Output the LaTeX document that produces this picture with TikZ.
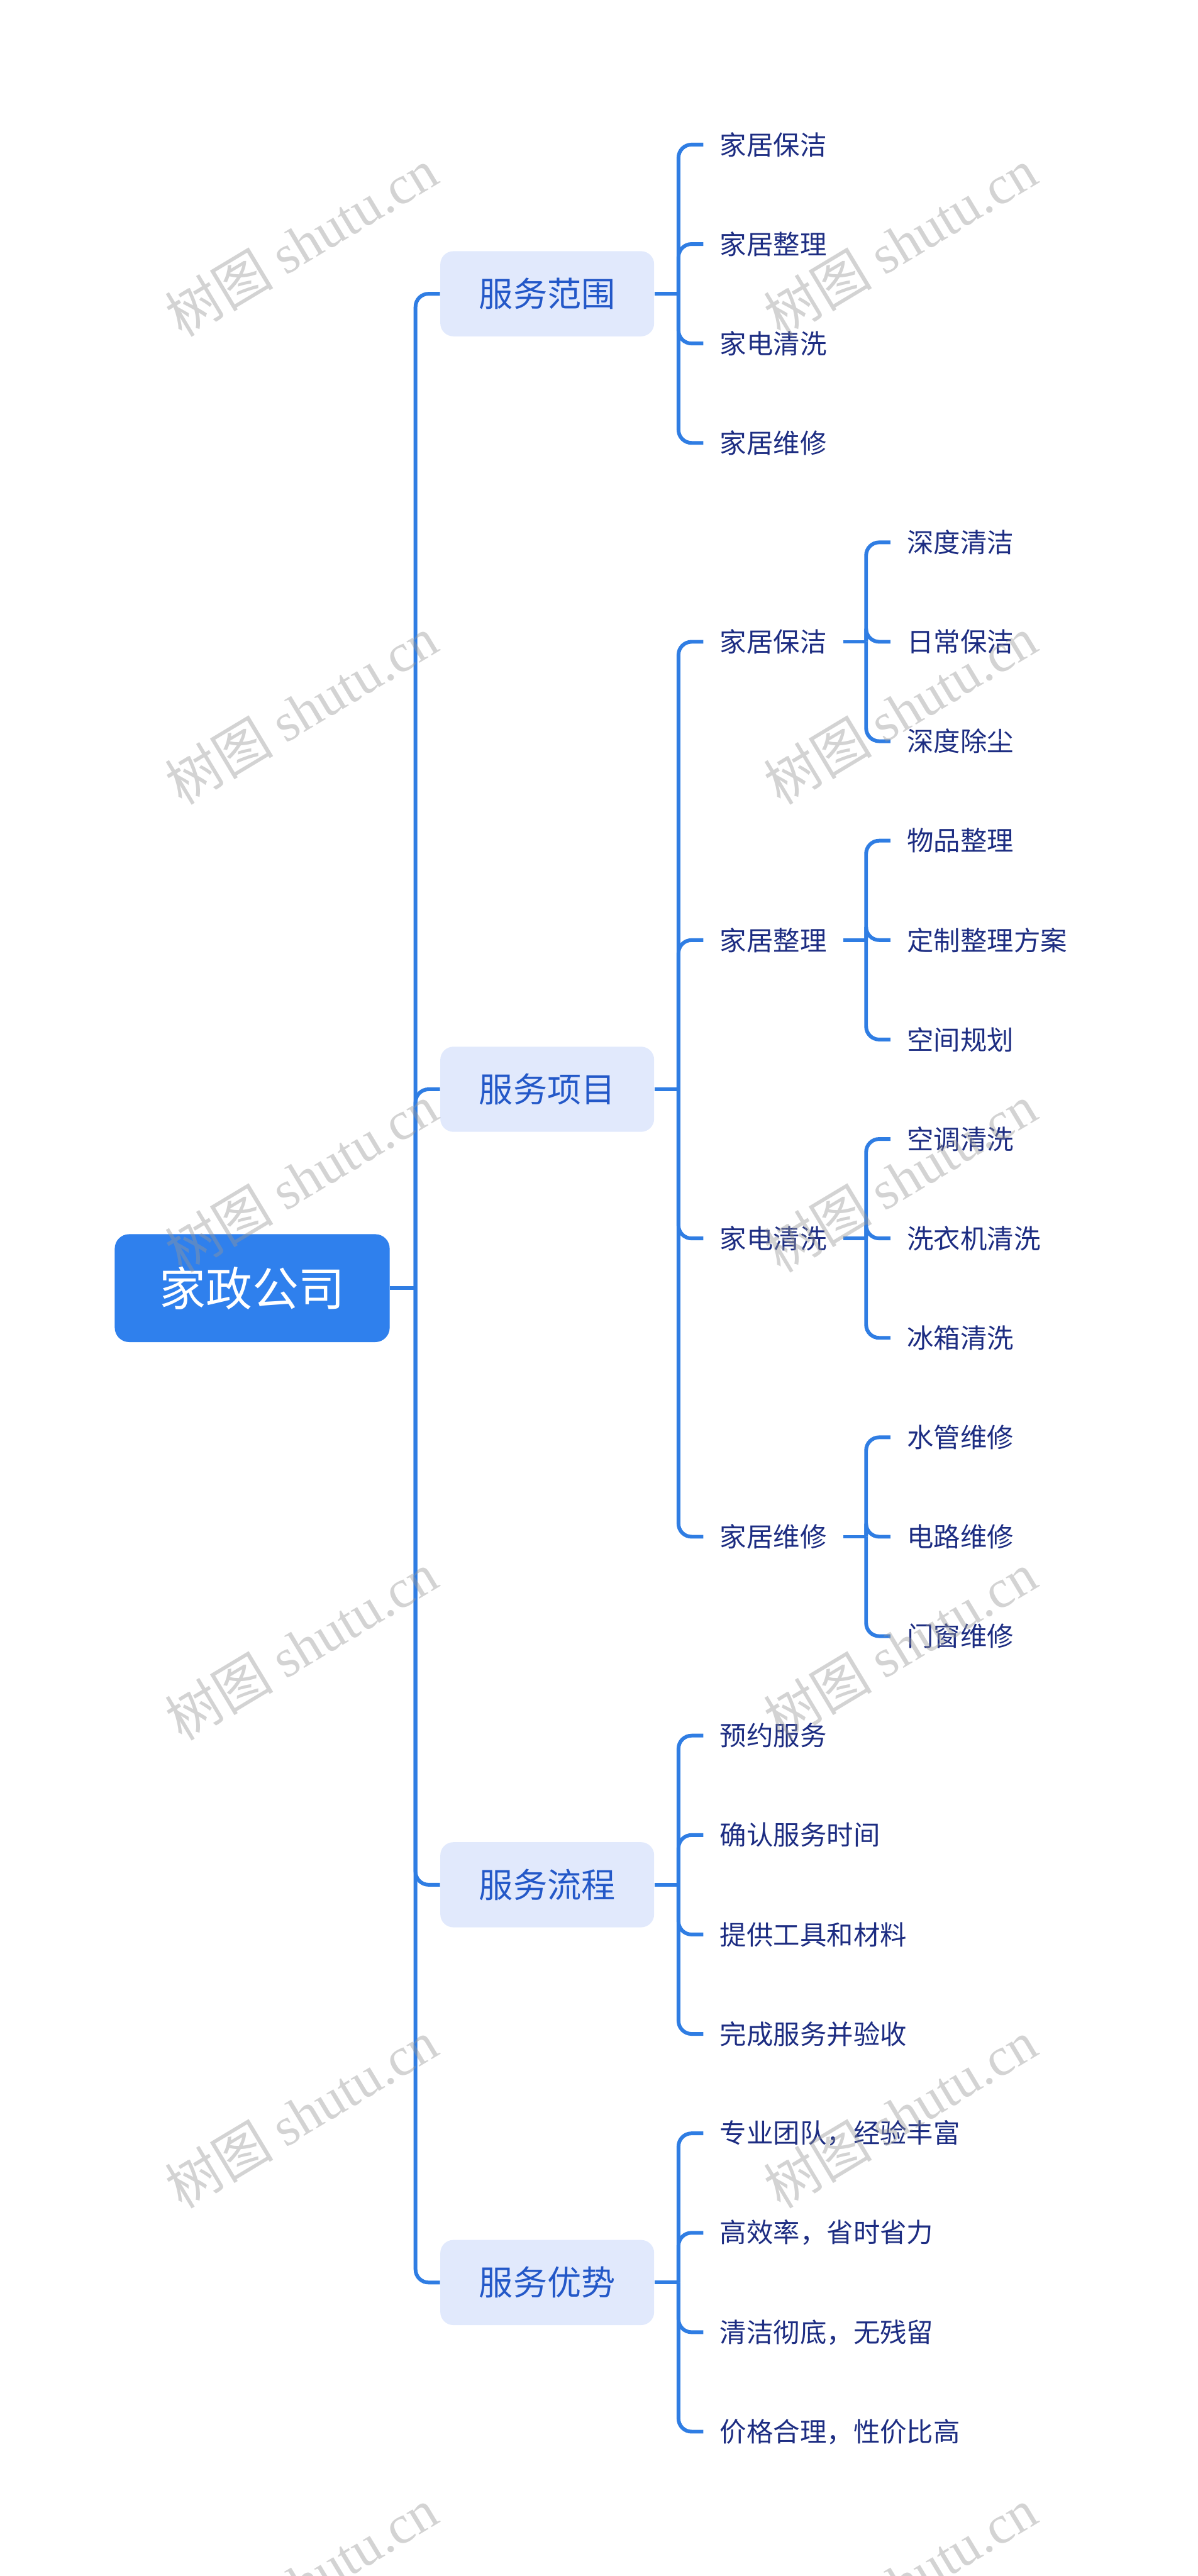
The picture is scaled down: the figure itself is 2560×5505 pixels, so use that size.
\documentclass[tikz,border=0pt]{standalone}
\usepackage{fontspec}
\newfontfamily\cjk{Noto Sans CJK SC}
\newfontfamily\wmlat{Liberation Serif}
\definecolor{linec}{HTML}{2F7DE3}
\definecolor{rootfill}{HTML}{2F80ED}
\definecolor{lonefill}{HTML}{E1E9FC}
\definecolor{lonetext}{HTML}{2358C8}
\definecolor{leaftext}{HTML}{1D2D82}
\definecolor{wmgray}{HTML}{969696}
\begin{document}
\begin{tikzpicture}[x=0.25pt,y=-0.25pt,
  rootbox/.style={draw=rootfill,fill=rootfill,rounded corners=7.5pt,minimum width=146.5pt,minimum height=57.25pt,inner sep=0pt,text=white,font=\cjk\fontsize{24.8pt}{28pt}\selectfont},
  lonebox/.style={fill=lonefill,rounded corners=7pt,minimum width=114.25pt,minimum height=45.5pt,inner sep=0pt,text=lonetext,font=\cjk\fontsize{18.2pt}{21pt}\selectfont},
  leaf/.style={anchor=west,inner xsep=8.75pt,inner ysep=2pt,text=leaftext,font=\cjk\fontsize{14.25pt}{17pt}\selectfont},
  conn/.style={draw=linec,line width=2pt,rounded corners=7pt},
  wm/.style={rotate=31,text=wmgray,opacity=0.42,font=\cjk\fontsize{29pt}{32pt}\selectfont}
]
\useasboundingbox (0,0) rectangle (2560,5505);

% root and level 1
\node[rootbox] (root) at (539,2752.75) {家政公司};
\node[lonebox] (a) at (1169.5,627.75) {服务范围};
\node[lonebox] (b) at (1169.5,2327.75) {服务项目};
\node[lonebox] (c) at (1169.5,4027.75) {服务流程};
\node[lonebox] (d) at (1169.5,4877.75) {服务优势};

% level 2 / 3 nodes
\node[leaf] (a1) at (1503,309) {家居保洁};
\node[leaf] (a2) at (1503,521.5) {家居整理};
\node[leaf] (a3) at (1503,734) {家电清洗};
\node[leaf] (a4) at (1503,946.5) {家居维修};

\node[leaf] (b1) at (1503,1371.5) {家居保洁};
\node[leaf] (b2) at (1503,2009) {家居整理};
\node[leaf] (b3) at (1503,2646.5) {家电清洗};
\node[leaf] (b4) at (1503,3284) {家居维修};

\node[leaf] (b11) at (1903,1159) {深度清洁};
\node[leaf] (b12) at (1903,1371.5) {日常保洁};
\node[leaf] (b13) at (1903,1584) {深度除尘};
\node[leaf] (b21) at (1903,1796.5) {物品整理};
\node[leaf] (b22) at (1903,2009) {定制整理方案};
\node[leaf] (b23) at (1903,2221.5) {空间规划};
\node[leaf] (b31) at (1903,2434) {空调清洗};
\node[leaf] (b32) at (1903,2646.5) {洗衣机清洗};
\node[leaf] (b33) at (1903,2859) {冰箱清洗};
\node[leaf] (b41) at (1903,3071.5) {水管维修};
\node[leaf] (b42) at (1903,3284) {电路维修};
\node[leaf] (b43) at (1903,3496.5) {门窗维修};

\node[leaf] (c1) at (1503,3709) {预约服务};
\node[leaf] (c2) at (1503,3921.5) {确认服务时间};
\node[leaf] (c3) at (1503,4134) {提供工具和材料};
\node[leaf] (c4) at (1503,4346.5) {完成服务并验收};

\node[leaf] (d1) at (1503,4559) {专业团队，经验丰富};
\node[leaf] (d2) at (1503,4771.5) {高效率，省时省力};
\node[leaf] (d3) at (1503,4984) {清洁彻底，无残留};
\node[leaf] (d4) at (1503,5196.5) {价格合理，性价比高};

% junctions
\coordinate (t0) at (888,2752.75);
\coordinate (ta) at (1450,627.75);
\coordinate (tb) at (1450,2327.75);
\coordinate (tc) at (1450,4027.75);
\coordinate (td) at (1450,4877.75);
\coordinate (tb1) at (1851,1371.5);
\coordinate (tb2) at (1851,2009);
\coordinate (tb3) at (1851,2646.5);
\coordinate (tb4) at (1851,3284);

% connectors
\draw[conn] (root.east) -- (t0);
\foreach \n in {a,b,c,d} {\draw[conn] (t0) |- (\n.west);}

\draw[conn] (a.east) -- (ta);
\foreach \n in {a1,a2,a3,a4} {\draw[conn] (ta) |- (\n.west);}
\draw[conn] (b.east) -- (tb);
\foreach \n in {b1,b2,b3,b4} {\draw[conn] (tb) |- (\n.west);}
\draw[conn] (c.east) -- (tc);
\foreach \n in {c1,c2,c3,c4} {\draw[conn] (tc) |- (\n.west);}
\draw[conn] (d.east) -- (td);
\foreach \n in {d1,d2,d3,d4} {\draw[conn] (td) |- (\n.west);}

\draw[conn] (b1.east) -- (tb1);
\foreach \n in {b11,b12,b13} {\draw[conn] (tb1) |- (\n.west);}
\draw[conn] (b2.east) -- (tb2);
\foreach \n in {b21,b22,b23} {\draw[conn] (tb2) |- (\n.west);}
\draw[conn] (b3.east) -- (tb3);
\foreach \n in {b31,b32,b33} {\draw[conn] (tb3) |- (\n.west);}
\draw[conn] (b4.east) -- (tb4);
\foreach \n in {b41,b42,b43} {\draw[conn] (tb4) |- (\n.west);}

% watermarks
\foreach \i/\yy in {1/518,2/1518,3/2518,4/3518,5/4518,6/5518} {
  \node[wm] (wl\i) at (644,\yy) {树图 {\wmlat shutu.cn}};
  \node[wm] (wr\i) at (1924,\yy) {树图 {\wmlat shutu.cn}};
}
\end{tikzpicture}
\end{document}
